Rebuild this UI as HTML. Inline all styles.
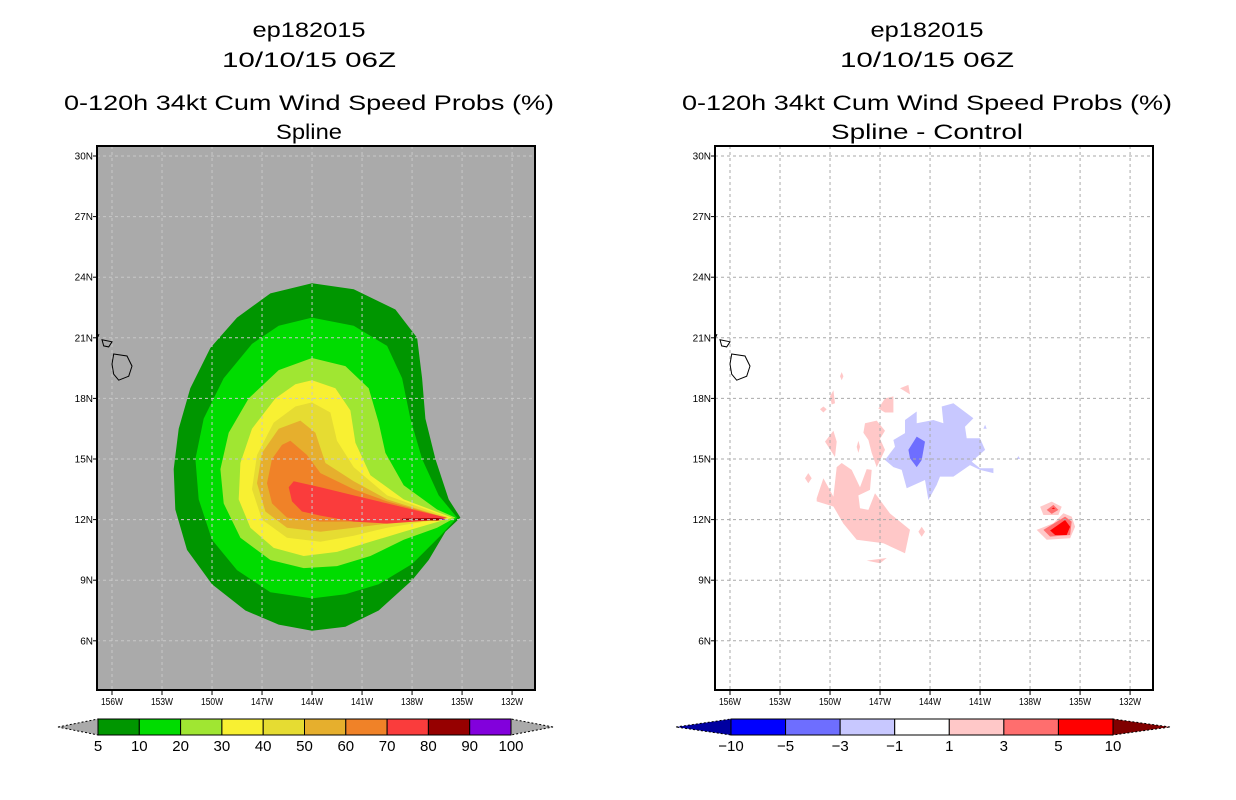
<!DOCTYPE html>
<html><head><meta charset="utf-8"><style>
html,body{margin:0;padding:0;background:#fff;}
svg{display:block;font-family:"Liberation Sans",sans-serif;}
</style></head><body>
<svg id="c" width="1236" height="800" viewBox="0 0 1236 800" xmlns="http://www.w3.org/2000/svg"></svg>
<script>
// ---- data ----
const lonTicks=[156,153,150,147,144,141,138,135,132];
const latTicks=[30,27,24,21,18,15,12,9,6];
const probLevels=["5","10","20","30","40","50","60","70","80","90","100"];
const probColors=["#009600","#00dc00","#a0e632","#f8f032","#e6dc32","#e6af2d","#f08228","#fa3c3c","#960000","#8200dc"];
const diffLevels=["-10","-5","-3","-1","1","3","5","10"];
const diffColors=["#0000ff","#6e6eff","#c8c8ff","#ffffff","#ffc8c8","#ff6e6e","#ff0000"];
const c5=[[144,23.7],[141.5,23.4],[139,22.4],[137.7,21],[137.4,19],[137.2,17],[136.6,15],[135.8,13],[135.1,12.1],[136,11.4],[137,10],[138,9],[140,7.5],[142,6.7],[144,6.5],[146,6.8],[148,7.5],[150,8.8],[151.5,10.5],[152.2,12.5],[152.3,14.5],[152,16.5],[151.3,18.5],[150.1,20.5],[148.5,22],[146.5,23.2]];
const c10=[[144,22],[141.5,21.6],[139.5,20.6],[138.6,19],[138.1,17],[137.4,15],[136.4,13.2],[135.3,12.1],[136.3,11.2],[138,9.8],[140,8.8],[142,8.3],[144,8.1],[146.5,8.4],[148.5,9.5],[150,11],[150.8,13],[151,15],[150.5,17],[149.3,19],[147.6,20.7],[146,21.6]];
const c20=[[144,20],[142,19.6],[140.6,18.5],[140,16.8],[139.6,15.3],[138.5,13.7],[136.5,12.5],[135.4,12.1],[136.5,11.6],[138.5,11],[140.5,10.2],[142.5,9.7],[144.5,9.6],[146.5,10],[148.3,11.1],[149.3,12.8],[149.5,14.5],[149,16.3],[147.8,18],[146,19.4]];
const c30=[[144,18.9],[142.6,18.5],[141.7,17.4],[141.4,15.8],[140.5,14.2],[138.5,13],[135.6,12.1],[138.5,11.4],[140.5,10.9],[142.5,10.4],[144.5,10.2],[146.3,10.6],[147.7,11.6],[148.4,13],[148.3,14.8],[147.6,16.5],[146.2,18],[145,18.7]];
const c40=[[144,17.8],[142.9,17.3],[142.5,15.9],[141.5,14.6],[139.5,13.2],[135.8,12.1],[139.5,11.6],[141.5,11.2],[143.5,10.9],[145.5,11.1],[147,12],[147.6,13.5],[147.3,15.2],[146.3,16.8],[145,17.6]];
const c50=[[144.7,16.9],[143.8,16.3],[143.2,14.8],[141.5,13.9],[139.5,13],[136,12.1],[139.5,11.8],[141.5,11.6],[143.5,11.4],[145.5,11.6],[146.8,12.4],[147.3,13.8],[147,15.3],[146,16.5]];
const c60=[[145.3,15.9],[144.3,15.2],[143.5,14.3],[141.5,13.5],[139.5,12.9],[136,12.1],[139.5,12],[141.5,11.9],[143.5,11.9],[145.5,12.1],[146.4,12.8],[146.7,13.8],[146.4,15],[145.8,15.7]];
const c70=[[145.4,13.6],[145.1,13.9],[143.5,13.6],[141.5,13.2],[139.5,12.8],[137,12.3],[135.9,12.1],[137,11.95],[139.5,11.8],[141.5,11.9],[143.5,12.2],[144.6,12.4],[145.2,12.9]];
const c80=[[138.6,12.05],[136.5,12.08],[135.9,12.03],[136.5,11.95],[138.6,11.98]];
const c90=[[136.3,12.04],[135.95,12.02],[136.3,11.97]];
const hawaii=[
 [[155.9,20.2],[155.1,20.1],[154.8,19.6],[155.0,19.1],[155.6,18.9],[155.9,19.2],[156.0,19.7]],
 [[156.6,20.9],[156.0,20.8],[156.2,20.55],[156.5,20.6]],
 [[157.2,21.1],[156.8,21.15],[156.9,20.95]],
 [[158.2,21.6],[157.7,21.3],[158.0,21.25]]
];
const pink=[
 [[150.8,13.06],[150.4,14.05],[149.8,13.14],[149.6,14.6],[149.3,14.8],[148.7,14.46],[148.2,13.6],[147.8,14.5],[147.5,14.46],[147.6,13.47],[148.3,13.2],[148.2,12.56],[147.7,12.48],[147.3,13.3],[146.4,12.3],[145.2,11.5],[145.5,10.33],[146.8,10.83],[148.4,11],[149.2,11.8],[149.8,12.65],[150.8,12.9]],
 [[147.9,16.77],[147.2,16.9],[146.7,16.4],[147,16],[146.7,15.45],[147.2,14.6],[147.5,15.3],[147.7,15.94],[148,16.3]],
 [[147.1,17.5],[146.7,18],[146.2,18.1],[146.2,17.3],[146.7,17.3]],
 [[145.8,18.5],[145.3,18.67],[145.2,18.2]],
 [[150.3,15.86],[149.8,16.4],[149.6,15.86],[149.7,15.1]],
 [[150,18.1],[149.8,18.4],[149.7,17.76],[149.9,17.7]],
 [[150.6,17.46],[150.4,17.6],[150.2,17.46],[150.4,17.3]],
 [[151.5,14.05],[151.3,14.3],[151.1,14.05],[151.3,13.8]],
 [[149.4,19.1],[149.3,19.3],[149.2,19.1],[149.3,18.9]],
 [[148.4,15.6],[148.3,15.9],[148.2,15.6],[148.3,15.3]],
 [[144.7,11.4],[144.5,11.65],[144.3,11.4],[144.5,11.15]],
 [[147.8,9.97],[146.6,10.1],[147,9.84]],
 [[137.4,12.64],[136.7,12.89],[136.1,12.64],[136.3,12.23],[137.2,12.23]],
 [[137.6,11.49],[136.6,11.82],[136,12.31],[135.5,12.15],[135.3,11.65],[135.6,11.08],[137,11]]
];
const medred=[
 [[137,12.48],[136.6,12.73],[136.3,12.48],[136.7,12.28]],
 [[137.2,11.49],[135.9,12.15],[135.5,11.9],[135.6,11.24],[136.8,11.16]]
];
const red=[
 [[136.8,11.46],[135.9,11.98],[135.6,11.65],[135.8,11.24],[136.5,11.24]],
 [[136.7,12.53],[136.6,12.6],[136.5,12.53]]
];
const lightblue=[
 [[146.7,14.95],[146.1,15.61],[146.2,15.94],[145.5,16.28],[145.5,16.93],[144.8,17.35],[144.8,16.77],[143.8,16.93],[143.2,16.77],[143.3,17.6],[142.6,17.76],[141.4,17.02],[141.9,16.6],[141.8,16.03],[141,16.03],[140.7,15.45],[141.5,14.87],[141,14.54],[140.2,14.54],[140.2,14.3],[141,14.46],[141.6,14.7],[142.6,14.13],[143.4,14.13],[143.6,13.72],[144.1,12.97],[144.3,13.96],[145.4,13.55],[145.7,14.46],[146.2,14.6]],
 [[140.8,16.5],[140.7,16.7],[140.6,16.5]],
 [[138.8,15],[138.7,15.15],[138.6,15]]
];
const blue=[[[145.3,15.45],[144.8,16.11],[144.3,15.86],[144.5,14.95],[144.8,14.6],[145.2,15.04]]];

// ---- helpers ----
const svg=document.getElementById('c');
const NS='http://www.w3.org/2000/svg';
function mk(tag,attrs,parent){const e=document.createElementNS(NS,tag);for(const k in attrs)e.setAttribute(k,attrs[k]);(parent||svg).appendChild(e);return e;}
function panel(x0){
  const X=lon=>x0+15+(156-lon)*16.67;
  const Y=lat=>156+(30-lat)*20.2;
  return {X,Y,x0,x1:x0+438,y0:146,y1:690};
}
function poly(P,pts,fill,name,parent){
  const e=mk('polygon',{points:pts.map(p=>P.X(p[0]).toFixed(1)+','+P.Y(p[1]).toFixed(1)).join(' '),fill:fill},parent);
  
  
  return e;
}
function txt(x,y,s,size,len,parent,name,anchor){
  const t=mk('text',{x:x,y:y,'font-size':size,'text-anchor':anchor||'middle',fill:'#000'},parent);
  if(len){t.setAttribute('textLength',len);t.setAttribute('lengthAdjust','spacingAndGlyphs');}
  t.textContent=s;
  
  
  return t;
}
function drawPanel(x0,bg,side,subtitle,subLen){
  const P=panel(x0);
  const g=mk('g',{});
  
  
  const cx=x0+212;
  txt(cx,37,'ep182015',21,113,g,side+'-storm-id');
  txt(cx,67,'10/10/15 06Z',21,174,g,side+'-date-title');
  txt(cx,110,'0-120h 34kt Cum Wind Speed Probs (%)',21,490,g,side+'-main-title');
  txt(cx,139,subtitle,21,subLen,g,side+'-subtitle');
  const cp='clip'+side;
  const cpe=mk('clipPath',{id:cp},g);mk('rect',{x:P.x0,y:P.y0,width:438,height:544},cpe);
  const bgr=mk('rect',{x:P.x0,y:P.y0,width:438,height:544,fill:bg},g);
  
  
  const fg=mk('g',{'clip-path':'url(#'+cp+')'},g);
  return {P,g,fg};
}
function frameAndTicks(D,side,gridColor){
  const P=D.P,g=D.g;
  const gg=mk('g',{stroke:gridColor,'stroke-width':1,'stroke-dasharray':'3,3'},D.fg);
  
  
  lonTicks.forEach(l=>{mk('line',{x1:P.X(l),x2:P.X(l),y1:P.y0,y2:P.y1},gg);});
  latTicks.forEach(l=>{mk('line',{x1:P.x0,x2:P.x1,y1:P.Y(l),y2:P.Y(l)},gg);});
  const fr=mk('rect',{x:P.x0,y:P.y0,width:438,height:544,fill:'none',stroke:'#000','stroke-width':2},g);
  
  
  lonTicks.forEach(l=>{
    mk('line',{x1:P.X(l),x2:P.X(l),y1:P.y1,y2:P.y1+5,stroke:'#000'},g);
    txt(P.X(l),705,l+'W',10,22,g,side+'-lon-label-'+l);
  });
  latTicks.forEach(l=>{
    mk('line',{x1:P.x0-4,x2:P.x0,y1:P.Y(l),y2:P.Y(l),stroke:'#000'},g);
    txt(P.x0-4,P.Y(l)+3.5,l+'N',10,null,g,side+'-lat-label-'+l,'end');
  });
  const hg=mk('g',{},D.fg);
  
  
  hawaii.forEach(h=>{const e=poly(P,h,'none','hawaii-island',hg);e.setAttribute('stroke','#000');e.setAttribute('stroke-width','1');});
}
function colorbar(x0,x1,tipL,tipR,colors,labels,leftTip,rightTip,name){
  const g=mk('g',{});
  
  
  const y0=719,y1=735,ym=727,w=(x1-x0)/colors.length;
  const lt=mk('polygon',{points:`${tipL},${ym} ${x0},${y0} ${x0},${y1}`,fill:leftTip,stroke:'#000','stroke-width':1,'stroke-dasharray':'2,2'},g);
  
  const rt=mk('polygon',{points:`${tipR},${ym} ${x1},${y0} ${x1},${y1}`,fill:rightTip,stroke:'#000','stroke-width':1,'stroke-dasharray':'2,2'},g);
  
  colors.forEach((col,i)=>{
    const r=mk('rect',{x:x0+i*w,y:y0,width:w,height:y1-y0,fill:col,stroke:'#000','stroke-width':1},g);
    
    
  });
  labels.forEach((s,i)=>{
    txt(x0+i*w,751,s.replace('-','\u2212'),15,null,g,name+'-label-'+i);
  });
}

// ---- left panel ----
const L=drawPanel(97,'#aaaaaa','left','Spline',66);
[c5,c10,c20,c30,c40,c50,c60,c70,c80,c90].forEach((c,i)=>poly(L.P,c,probColors[i],'prob-contour-'+probLevels[i],L.fg));
frameAndTicks(L,'left','#c8c8c8');
colorbar(98,511,58,553,probColors,probLevels,'#aaaaaa','#aaaaaa','prob-colorbar');

// ---- right panel ----
const R=drawPanel(715,'#ffffff','right','Spline - Control',192);
pink.forEach((p,i)=>poly(R.P,p,'#ffc8c8','diff-pos-1-3-'+i,R.fg));
medred.forEach((p,i)=>poly(R.P,p,'#ff6e6e','diff-pos-3-5-'+i,R.fg));
red.forEach((p,i)=>poly(R.P,p,'#ff0000','diff-pos-5-10-'+i,R.fg));
lightblue.forEach((p,i)=>poly(R.P,p,'#c8c8ff','diff-neg-1-3-'+i,R.fg));
blue.forEach((p,i)=>poly(R.P,p,'#6e6eff','diff-neg-3-5-'+i,R.fg));
frameAndTicks(R,'right','#aaaaaa');
colorbar(731,1113,676,1170,diffColors,diffLevels,'#0000a0','#800000','diff-colorbar');
</script>
</body></html>
